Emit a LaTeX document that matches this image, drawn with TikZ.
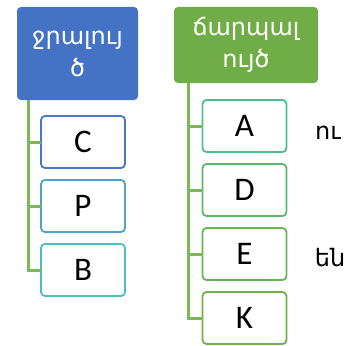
\documentclass[tikz,border=0pt]{standalone}
\usepackage{fontspec}
\setmainfont{Carlito}
\newfontfamily\arm{DejaVu Sans}
\definecolor{hblue}{HTML}{4472C4}
\definecolor{hgreen}{HTML}{70AD47}
\definecolor{lnk}{HTML}{7DB857}
\definecolor{cC}{HTML}{4A78C8}
\definecolor{cP}{HTML}{4BA3CC}
\definecolor{cB}{HTML}{48C0BE}
\definecolor{cA}{HTML}{4EBE8C}
\definecolor{cD}{HTML}{5BBA6A}
\definecolor{cE}{HTML}{66B752}
\definecolor{cK}{HTML}{70B24A}
\begin{document}
\begin{tikzpicture}[x=1pt,y=-1pt,
  header/.style={rectangle,rounded corners=4pt,inner sep=0pt,outer sep=0pt,text=white,align=center,font=\arm\fontsize{24}{32}\selectfont},
  leaf/.style={rectangle,rounded corners=4pt,draw=#1,fill=white,line width=1.8pt,inner sep=0pt,outer sep=0pt,minimum width=84pt,minimum height=52pt,font=\fontsize{33}{35}\selectfont},
  conn/.style={draw=lnk,line width=3pt},
  side/.style={font=\arm\fontsize{24}{26}\selectfont}]
\useasboundingbox (0,0) rectangle (363,345);
\node[header,fill=hblue,minimum width=121pt,minimum height=93pt] (wat) at (77.5,53.5) {ջրալույ\\ծ};
\node[header,fill=hgreen,minimum width=144pt,minimum height=76pt] (fat) at (246,45) {ճարպալ\\ույծ};
\node[leaf=cC] (C) at (83,142) {C};
\node[leaf=cP] (P) at (83,206) {P};
\node[leaf=cB] (B) at (83,270) {B};
\node[leaf=cA] (A) at (244.5,126) {A};
\node[leaf=cD] (D) at (244.5,190) {D};
\node[leaf=cE] (E) at (244.5,254) {E};
\node[leaf=cK] (K) at (244.5,318) {K};
\coordinate (lx) at (28,0);
\coordinate (rx) at (188,0);
\draw[conn] (wat.south -| lx) |- (B.west);
\draw[conn] (C.west) -- (C.west -| lx);
\draw[conn] (P.west) -- (P.west -| lx);
\draw[conn] (fat.south -| rx) |- (K.west);
\draw[conn] (A.west) -- (A.west -| rx);
\draw[conn] (D.west) -- (D.west -| rx);
\draw[conn] (E.west) -- (E.west -| rx);
\node[side] (u) at (328,133) {ու};
\node[side] (en) at (330,258) {են};
\end{tikzpicture}
\end{document}
